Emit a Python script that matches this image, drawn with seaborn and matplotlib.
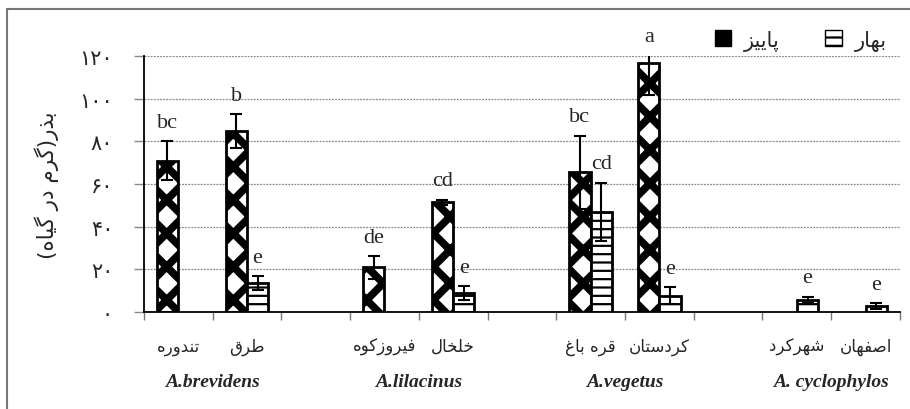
import numpy as np
import pandas as pd
import matplotlib
matplotlib.use("Agg")
import matplotlib.pyplot as plt
import seaborn as sns
from matplotlib.patches import Patch, Rectangle
from matplotlib.transforms import blended_transform_factory

# data (seed weight, g per plant)
sites = ["تندوره", "طرق", "gap1", "فیروزکوه", "خلخال", "gap2",
         "قره باغ", "کردستان", "gap3", "شهرکرد", "اصفهان"]
autumn = [71.0, 84.7, np.nan, 20.9, 51.4, np.nan, 65.5, 116.7, np.nan, np.nan, np.nan]
autumn_err = [9.0, 8.0, np.nan, 5.2, 1.3, np.nan, 17.0, 15.0, np.nan, np.nan, np.nan]
spring = [np.nan, 13.4, np.nan, np.nan, 8.9, np.nan, 46.9, 7.6, np.nan, 5.5, 2.8]
spring_err = [np.nan, 3.3, np.nan, np.nan, 3.1, np.nan, 13.6, 4.0, np.nan, 1.5, 1.2]
autumn_letters = ["bc", "b", "", "de", "cd", "", "bc", "a", "", "", ""]
spring_letters = ["", "e", "", "", "e", "", "cd", "e", "", "e", "e"]
species = ["A.brevidens", "A.lilacinus", "A.vegetus", "A. cyclophylos"]
species_sites = [["تندوره", "طرق"], ["فیروزکوه", "خلخال"],
                 ["قره باغ", "کردستان"], ["شهرکرد", "اصفهان"]]
seasons = ["پاییز", "بهار"]
y_ticks = [0, 20, 40, 60, 80, 100, 120]
y_title = "بذر(گرم در گیاه)"

# matplotlib has no arabic shaping -> map letters to presentation forms and reverse
FORMS = {
    "ا": ("\uFE8D", "\uFE8E"), "د": ("\uFEA9", "\uFEAA"), "ذ": ("\uFEAB", "\uFEAC"),
    "ر": ("\uFEAD", "\uFEAE"), "ز": ("\uFEAF", "\uFEB0"), "و": ("\uFEED", "\uFEEE"),
    "ب": ("\uFE8F", "\uFE90", "\uFE91", "\uFE92"), "پ": ("\uFB56", "\uFB57", "\uFB58", "\uFB59"),
    "ت": ("\uFE95", "\uFE96", "\uFE97", "\uFE98"), "خ": ("\uFEA5", "\uFEA6", "\uFEA7", "\uFEA8"),
    "س": ("\uFEB1", "\uFEB2", "\uFEB3", "\uFEB4"), "ش": ("\uFEB5", "\uFEB6", "\uFEB7", "\uFEB8"),
    "ص": ("\uFEB9", "\uFEBA", "\uFEBB", "\uFEBC"), "ط": ("\uFEC1", "\uFEC2", "\uFEC3", "\uFEC4"),
    "غ": ("\uFECD", "\uFECE", "\uFECF", "\uFED0"), "ف": ("\uFED1", "\uFED2", "\uFED3", "\uFED4"),
    "ق": ("\uFED5", "\uFED6", "\uFED7", "\uFED8"), "ک": ("\uFB8E", "\uFB8F", "\uFB90", "\uFB91"),
    "گ": ("\uFB92", "\uFB93", "\uFB94", "\uFB95"), "ل": ("\uFEDD", "\uFEDE", "\uFEDF", "\uFEE0"),
    "م": ("\uFEE1", "\uFEE2", "\uFEE3", "\uFEE4"), "ن": ("\uFEE5", "\uFEE6", "\uFEE7", "\uFEE8"),
    "ه": ("\uFEE9", "\uFEEA", "\uFEEB", "\uFEEC"), "ی": ("\uFBFC", "\uFBFD", "\uFBFE", "\uFBFF"),
}


def fa(text):
    out = []
    for i, ch in enumerate(text):
        f = FORMS.get(ch)
        if f is None:
            out.append(ch)
            continue
        prev = text[i - 1] if i > 0 else ""
        nxt = text[i + 1] if i + 1 < len(text) else ""
        jp = prev in FORMS and len(FORMS[prev]) == 4
        jn = nxt in FORMS and len(f) == 4
        if jp and jn:
            out.append(f[3])
        elif jp:
            out.append(f[1])
        elif jn:
            out.append(f[2])
        else:
            out.append(f[0])
    return "".join(reversed(out)).translate(str.maketrans("()", ")("))


def fa_num(v):
    return str(v).translate(str.maketrans("0123456789", "۰۱۲۳۴۵۶۷۸۹"))


df = pd.DataFrame({
    "site": sites * 2,
    "season": [seasons[0]] * len(sites) + [seasons[1]] * len(sites),
    "value": autumn + spring,
})
errs = {seasons[0]: autumn_err, seasons[1]: spring_err}
letters = {seasons[0]: autumn_letters, seasons[1]: spring_letters}

sns.set_style("white")
plt.rcParams["font.family"] = ["DejaVu Sans"]
plt.rcParams["hatch.linewidth"] = 1.6

fig, ax = plt.subplots(figsize=(9.1, 4.1), dpi=100)
fig.subplots_adjust(left=0.158, right=0.989, bottom=0.2366, top=0.861)

sns.barplot(data=df, x="site", y="value", hue="season", order=sites,
            hue_order=seasons, errorbar=None, width=0.62, ax=ax, legend=False)

styles = {
    seasons[0]: dict(facecolor="white", edgecolor="black", hatch="x", hlw=5.5),
    seasons[1]: dict(facecolor="white", edgecolor="black", hatch="--", hlw=1.6),
}

serif = "Liberation Serif"
for season, cont in zip(seasons, ax.containers):
    st = styles[season]
    for p in cont.patches:
        if np.isnan(p.get_height()) or p.get_height() == 0:
            continue
        p.set_facecolor(st["facecolor"])
        p.set_edgecolor(st["edgecolor"])
        p.set_hatch(st["hatch"])
        p.set_linewidth(2.0)
        if hasattr(p, "set_hatch_linewidth"):
            p.set_hatch_linewidth(st["hlw"])
        xc = p.get_x() + p.get_width() / 2
        idx = int(round(xc))
        h = p.get_height()
        e = errs[season][idx]
        ax.errorbar(xc, h, yerr=e, fmt="none", ecolor="black", elinewidth=1.5,
                    capsize=4.5, capthick=1.5, zorder=4)
        lab = letters[season][idx]
        if lab:
            ax.text(xc, min(h + e, 120) + 9, lab, ha="center", va="center",
                    fontsize=16, family=serif, clip_on=False)

ax.set_xlim(-0.5, len(sites) - 0.5)
ax.set_ylim(0, 120)
ax.set_yticks(y_ticks)
ax.set_yticklabels([fa_num(v) for v in y_ticks], fontsize=15)
ax.set_xticks(np.arange(-0.5, len(sites)), [""] * (len(sites) + 1))
ax.set_xticks(np.arange(len(sites)),
              ["" if s.startswith("gap") else fa(s) for s in sites], minor=True)
ax.tick_params(axis="x", which="major", direction="out", length=6, width=1,
               color="#777777", bottom=True)
ax.tick_params(axis="x", which="minor", length=0, pad=18, labelsize=12)
ax.tick_params(axis="y", direction="out", length=7, width=1, color="#888888",
               left=True, pad=15)
ax.set_xlabel("")
ax.set_ylabel(fa(y_title), fontsize=15.5, labelpad=15)

ax.grid(axis="y", linestyle=(0, (1.5, 1)), color="#888888", linewidth=0.9)
ax.set_axisbelow(True)
for s in ["top", "right"]:
    ax.spines[s].set_visible(False)
for s in ["left", "bottom"]:
    ax.spines[s].set_color("black")
    ax.spines[s].set_linewidth(1.3)

trans = blended_transform_factory(ax.transData, ax.transAxes)
for name, pair in zip(species, species_sites):
    xm = np.mean([sites.index(s) for s in pair])
    ax.text(xm, -0.27, name, transform=trans, ha="center", va="center",
            fontsize=14, family=serif, fontweight="bold", fontstyle="italic")

handles = [Patch(facecolor="black", edgecolor="black", label=fa(seasons[0])),
           Patch(facecolor="white", edgecolor="black", hatch="--", label=fa(seasons[1]))]
fig.legend(handles=handles, loc="center right", bbox_to_anchor=(0.995, 0.9),
           ncol=2, frameon=False, fontsize=15, handlelength=0.8,
           handleheight=0.8, columnspacing=2.2, handletextpad=0.6)

fig.patches.append(Rectangle((0.0077, -0.5), 2, 0.9756 + 0.5, transform=fig.transFigure,
                             fill=False, edgecolor="#777777", linewidth=1.5))

fig.savefig("out.png", dpi=100)
